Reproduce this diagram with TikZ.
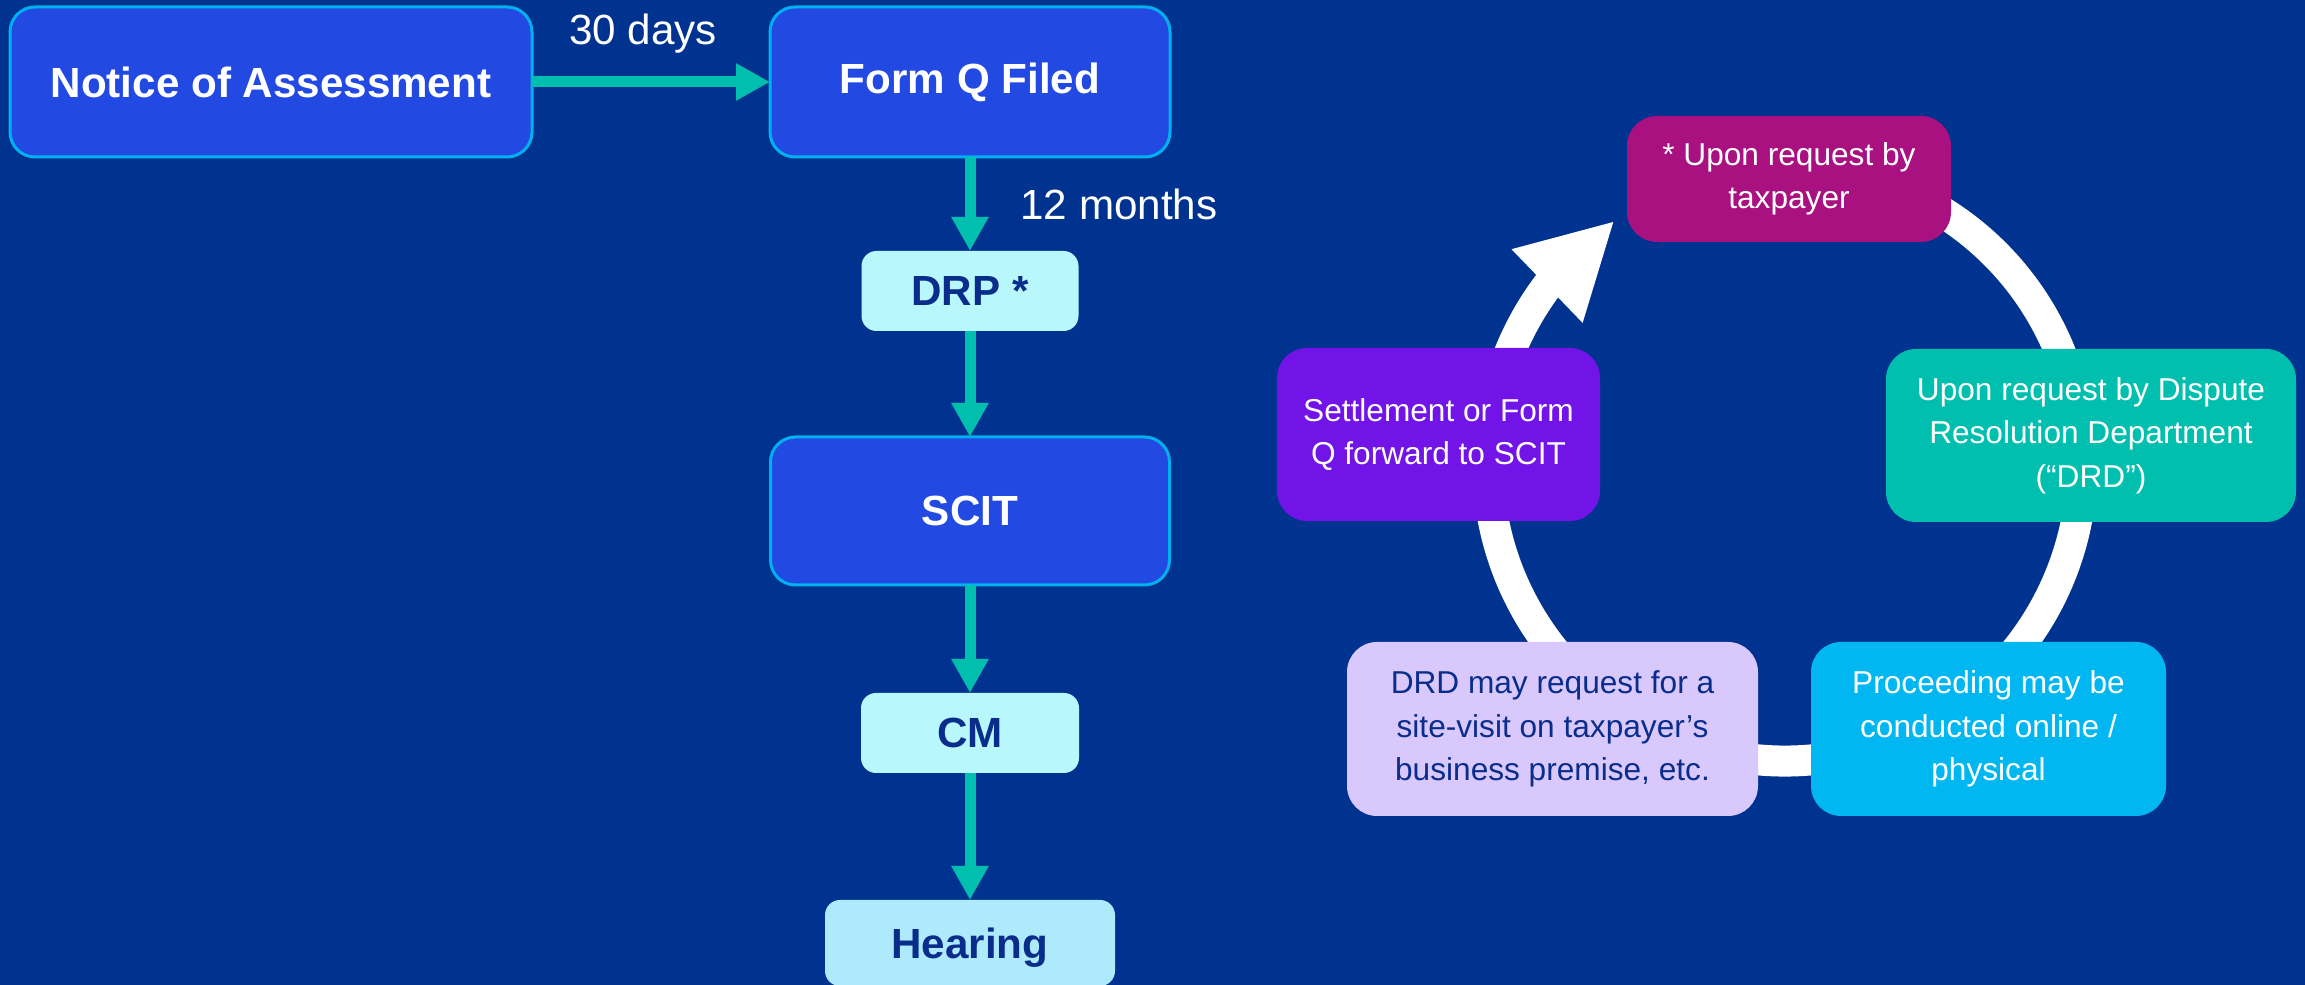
\documentclass[tikz,border=0pt]{standalone}
\usepackage{fontspec}
\setmainfont{Liberation Sans}
\usepackage{xcolor}
\usetikzlibrary{positioning,arrows.meta,bending}

\definecolor{bgblue}{HTML}{00338F}
\definecolor{mainblue}{HTML}{224AE2}
\definecolor{edgecyan}{HTML}{00B0F0}
\definecolor{stagecyan}{HTML}{B8F8FC}
\definecolor{hearcyan}{HTML}{AEEAFC}
\definecolor{navytext}{HTML}{0A2D8C}
\definecolor{flowteal}{HTML}{00BFAE}
\definecolor{notemagenta}{HTML}{A8117F}
\definecolor{notepurple}{HTML}{7213E8}
\definecolor{noteteal}{HTML}{00BFAE}
\definecolor{notelilac}{HTML}{D8C8FC}
\definecolor{notesky}{HTML}{00B7F1}

\begin{document}
\begin{tikzpicture}[
  box/.style={
    rectangle,
    rounded corners=0.25cm,
    align=center,
    inner sep=0pt,
    outer sep=0pt,
    font=\fontsize{12}{14}\selectfont\bfseries
  },
  mainbox/.style={box, fill=mainblue, draw=edgecyan, line width=0.03cm, text=white},
  stagebox/.style={box, rounded corners=0.15cm, fill=stagecyan, text=navytext, text depth=0pt},
  notebox/.style={
    rectangle,
    rounded corners=0.3cm,
    align=center,
    inner sep=0pt,
    outer sep=0pt,
    text=white,
    font=\fontsize{9}{12.4}\selectfont
  },
  flow/.style={-{Triangle[width=0.35cm,length=0.34cm]}, line width=0.11cm, draw=flowteal},
  timing/.style={inner sep=0pt, text=white, font=\fontsize{12}{14}\selectfont}
]

\useasboundingbox (0,0) rectangle (23.05,9.85);
\fill[bgblue] (0,0) rectangle (23.05,9.85);

% main flow
\node[mainbox, minimum width=5.22cm, minimum height=1.50cm] (notice) at (2.71,9.03) {Notice of Assessment};
\node[mainbox, minimum width=4.00cm, minimum height=1.50cm] (formq) at (9.70,9.03) {Form Q Filed};
\node[stagebox, minimum width=2.17cm, minimum height=0.80cm] (drp) at (9.70,6.94) {DRP *};
\node[mainbox, minimum width=3.99cm, minimum height=1.48cm] (scit) at (9.70,4.74) {SCIT};
\node[stagebox, minimum width=2.18cm, minimum height=0.80cm] (cm) at (9.70,2.52) {CM};
\node[stagebox, fill=hearcyan, minimum width=2.90cm, minimum height=0.86cm] (hearing) at (9.70,0.42) {Hearing};

\draw[flow] (notice) -- node[timing, midway, above=0.23cm, xshift=-0.08cm] {30 days} (formq);
\draw[flow] (formq) -- node[timing, midway, right=0.45cm] {12 months} (drp);
\draw[flow] (drp) -- (scit);
\draw[flow] (scit) -- (cm);
\draw[flow] (cm) -- (hearing);

% DRP cycle
\coordinate (ring) at (17.85,5.21);
\draw[white, line width=0.31cm, -{Triangle[width=0.95cm,length=0.94cm]}]
  ([shift={(70:2.97)}]ring) arc[start angle=70, end angle=-235, radius=2.97cm];

\node[notebox, fill=notemagenta, minimum width=3.24cm, minimum height=1.26cm] (taxpayer) at (17.89,8.06)
  {* Upon request by\\ taxpayer};
\node[notebox, fill=noteteal, minimum width=4.10cm, minimum height=1.73cm] (drd) at (20.91,5.495)
  {Upon request by Dispute\\ Resolution Department\\ (“DRD”)};
\node[notebox, fill=notesky, minimum width=3.55cm, minimum height=1.74cm] (online) at (19.885,2.56)
  {Proceeding may be\\ conducted online /\\ physical};
\node[notebox, fill=notelilac, text=navytext, minimum width=4.11cm, minimum height=1.74cm] (visit) at (15.525,2.56)
  {DRD may request for a\\ site-visit on taxpayer’s\\ business premise, etc.};
\node[notebox, fill=notepurple, minimum width=3.23cm, minimum height=1.73cm] (settle) at (14.385,5.505)
  {Settlement or Form\\ Q forward to SCIT};

\end{tikzpicture}
\end{document}
